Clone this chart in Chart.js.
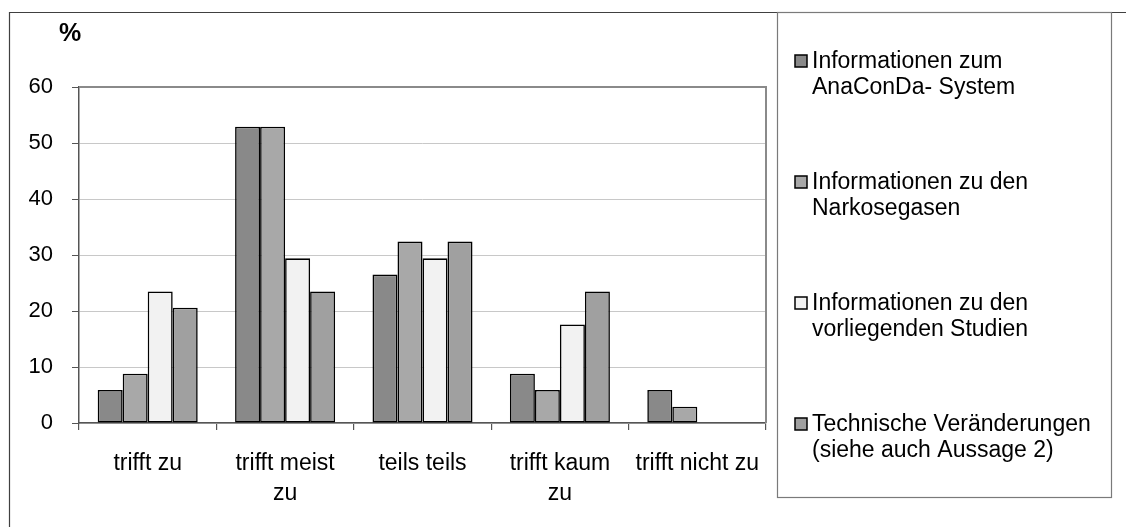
<!DOCTYPE html>
<html>
<head>
<meta charset="utf-8">
<script src="https://cdn.jsdelivr.net/npm/chart.js@4/dist/chart.umd.min.js"></script>
<style>
  html, body { margin: 0; padding: 0; background: #ffffff; }
  #wrap { width: 1126px; height: 527px; position: relative; }
</style>
</head>
<body>
<div id="wrap"><canvas id="c" width="1126" height="527"></canvas></div>
<script>
// ---- data ----
const categories = ["trifft zu", ["trifft meist", "zu"], "teils teils", ["trifft kaum", "zu"], "trifft nicht zu"];
const seriesNames = [
  ["Informationen zum", "AnaConDa- System"],
  ["Informationen zu den", "Narkosegasen"],
  ["Informationen zu den", "vorliegenden Studien"],
  ["Technische Veränderungen", "(siehe auch Aussage 2)"]
];
const systemValues   = [5.9, 52.9, 26.5, 8.8, 5.9];
const gasValues      = [8.8, 52.9, 32.4, 5.9, 2.9];
const studyValues    = [23.5, 29.4, 29.4, 17.6, 0];
const technikValues  = [20.6, 23.5, 32.4, 23.5, 0];
const yTicks = [0, 10, 20, 30, 40, 50, 60];
const unitLabel = "%";

const colors = ["#898989", "#a8a8a8", "#f2f2f2", "#a0a0a0"];
const FONT = "'Liberation Sans', Arial, sans-serif";

const decor = {
  id: 'decor',
  beforeDraw(chart) {
    const ctx = chart.ctx;
    ctx.save();
    ctx.strokeStyle = '#404040';
    ctx.lineWidth = 1.2;
    ctx.beginPath();
    ctx.moveTo(9.5, 527);
    ctx.lineTo(9.5, 12.5);
    ctx.lineTo(1126, 12.5);
    ctx.stroke();
    ctx.restore();
  },
  afterDatasetsDraw(chart) {
    const ctx = chart.ctx, a = chart.chartArea;
    ctx.save();
    ctx.strokeStyle = '#8a8a8a';
    ctx.lineWidth = 2;
    ctx.beginPath();
    ctx.moveTo(a.left, a.top);
    ctx.lineTo(a.right, a.top);
    ctx.lineTo(a.right, a.bottom);
    ctx.stroke();
    ctx.fillStyle = '#000';
    ctx.font = "bold 25px " + FONT;
    ctx.textAlign = 'center';
    ctx.textBaseline = 'middle';
    ctx.fillText(unitLabel, a.left - 9, a.top - 53);
    const lx = a.right + 11, ly = 12, lw = 334, lh = 485;
    ctx.strokeStyle = '#7a7a7a';
    ctx.lineWidth = 1.2;
    ctx.strokeRect(lx + 0.5, ly + 0.5, lw, lh);
    ctx.font = "23px " + FONT;
    ctx.textAlign = 'left';
    chart.data.datasets.forEach((ds, i) => {
      const y0 = 61 + i * 121;
      ctx.fillStyle = ds.backgroundColor;
      ctx.fillRect(lx + 18, y0 - 6, 12, 12);
      ctx.strokeStyle = '#000';
      ctx.lineWidth = 1.5;
      ctx.strokeRect(lx + 18, y0 - 6, 12, 12);
      ctx.fillStyle = '#000';
      ds.label.forEach((line, j) => {
        ctx.fillText(line, lx + 35, y0 + 1 + j * 26);
      });
    });
    ctx.restore();
  }
};

const seriesValues = [systemValues, gasValues, studyValues, technikValues];

new Chart(document.getElementById('c'), {
  type: 'bar',
  data: {
    labels: categories,
    datasets: seriesValues.map((vals, i) => ({
      label: seriesNames[i],
      data: vals,
      backgroundColor: colors[i],
      borderColor: '#000000',
      borderWidth: 1.6,
      borderSkipped: false,
      categoryPercentage: 0.728,
      barPercentage: 1.0
    }))
  },
  options: {
    responsive: false,
    animation: false,
    devicePixelRatio: 1,
    layout: { padding: { left: 0, top: 87, right: 360, bottom: 0 } },
    plugins: { legend: { display: false }, tooltip: { enabled: false }, title: { display: false } },
    scales: {
      x: {
        grid: { display: true, drawOnChartArea: false, drawTicks: true, tickLength: 7, offset: true, tickColor: '#555', lineWidth: 1.2 },
        border: { display: true, color: '#555', width: 1.5 },
        ticks: {
          color: '#000', font: { family: FONT, size: 23, lineHeight: 1.3 },
          maxRotation: 0, minRotation: 0, autoSkip: false, padding: 19
        },
        afterFit(scale) { scale.height = 104; }
      },
      y: {
        min: 0, max: 60,
        afterBuildTicks(scale) { scale.ticks = yTicks.map(v => ({ value: v })); },
        grid: { color: '#c8c8c8', lineWidth: 1, tickLength: 7, tickColor: '#555' },
        border: { display: true, color: '#555', width: 1.5 },
        ticks: { color: '#000', font: { family: FONT, size: 22 }, padding: 19 },
        afterFit(scale) { scale.width = 79; }
      }
    }
  },
  plugins: [decor]
});
</script>
</body>
</html>
